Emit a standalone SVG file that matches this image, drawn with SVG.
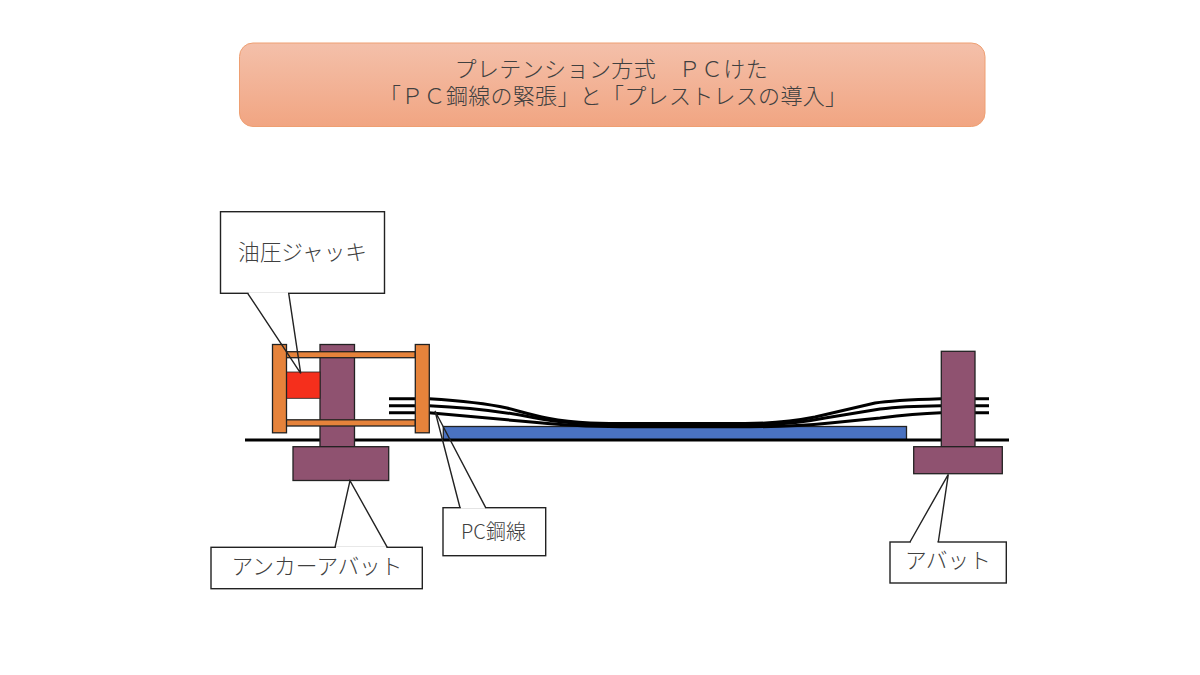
<svg xmlns="http://www.w3.org/2000/svg" width="1200" height="675" viewBox="0 0 1200 675">
<style>
text{font-family:"Noto Sans CJK JP","Noto Sans CJK SC",sans-serif;font-weight:300;fill:#404040;text-anchor:middle}
.t{font-size:21.700px}
.h{font-size:22px;text-anchor:start}
.p{fill:#8F5270;stroke:#222;stroke-width:1.300}
.o{fill:#E6833B;stroke:#222;stroke-width:1.300}
.s{fill:none;stroke:#000;stroke-width:3}
.c{fill:#fff;stroke:#222;stroke-width:1.400}
.l{fill:none;stroke:#222;stroke-width:1.400}
.w{stroke:#fff;stroke-width:2}
</style>
<defs>
<linearGradient id="g" x1="0" y1="0" x2="0" y2="1"><stop offset="0" stop-color="#F4C0AA"/><stop offset="1" stop-color="#F1A582"/></linearGradient>
</defs>
<rect width="1200" height="675" fill="#fff"/>
<g id="title">
<rect x="239.500" y="43" width="745.500" height="83.500" rx="13.500" fill="url(#g)" stroke="#EE9F72" stroke-width="1"/>
<text class="h" y="77" x="454.500 476.900 499.300 521.700 544.100 566.500 588.900 611.300 633.700 656.100 678.500 700.900 723.300 745.700">プレテンション方式　ＰＣけた</text>
<text class="h" y="104" x="379 401.300 423.600 445.900 468.200 490.500 512.800 535.100 557.400 579.700 602 624.300 646.600 668.900 691.200 713.500 735.800 758.100 780.400 802.700 825">「ＰＣ鋼線の緊張」と「プレストレスの導入」</text>
</g>
<g id="blue-girder"><rect x="443.300" y="426.500" width="463.200" height="13.500" fill="#4A72C1" stroke="#222" stroke-width="1.300"/></g>
<g id="connectors">
<path class="s" d="M245 440H1009"/>
<path class="s" d="M389 398.700H415M389 405.700H415M389 412.700H415M975 398.700H989M975 405.700H989M975 412.700H989"/>
<path class="s" d="M429 398.700C450 400 480 402 507 408C530 414 550 421 590 423C620 424 640 423.500 660 423.500H745C775 423.500 795 421 815 417L875 403C890 400.500 915 399.500 941 398.700"/>
<path class="s" d="M429 405.700C460 407 490 410 520 415C545 420 570 425 620 425H750C785 425 805 422 825 418L880 409C900 406.500 920 406 941 405.700"/>
<path class="s" d="M429 412.700L520 421C550 424 580 426.700 620 426.700H750C790 426.700 810 425 830 423L880 418C900 415.500 920 413.500 941 412.700"/>
</g>
<g id="anchor-abutment">
<rect class="p" x="320" y="344.500" width="34.500" height="102.200"/>
<rect class="p" x="293" y="446.700" width="95.700" height="33.800"/>
</g>
<g id="jack"><rect x="286.300" y="372" width="33.700" height="26.300" fill="#F52F1C" stroke="#222" stroke-width="0.800"/></g>
<g id="frame">
<rect class="o" x="286.300" y="351.700" width="129" height="6"/>
<rect class="o" x="286.300" y="419.800" width="129" height="6.200"/>
<rect class="o" x="272.500" y="344.500" width="14" height="88.300"/>
<rect class="o" x="415.300" y="344.500" width="14" height="88.300"/>
</g>
<g id="abutment">
<rect class="p" x="941.300" y="351.300" width="33.700" height="95.400"/>
<rect class="p" x="913.700" y="446.700" width="88.600" height="27"/>
</g>
<g id="callout-jack">
<rect class="c" x="220.500" y="211.700" width="164" height="81.600"/>
<path class="w" d="M248.500 293.300H288"/>
<path class="l" d="M247.700 293.300L300.700 373.300L288.700 293.300"/>
<text class="t" x="302.500" y="259.500">油圧ジャッキ</text>
</g>
<g id="callout-pc">
<rect class="c" x="443" y="507.700" width="102.700" height="48"/>
<path class="w" d="M460.800 507.700H485"/>
<path class="l" d="M460 507.700L435 411L485.700 507.700"/>
<text x="493.500" y="539" font-size="20">PC鋼線</text>
</g>
<g id="callout-anchor">
<rect class="c" x="211" y="547.300" width="211.300" height="41.400"/>
<path class="w" d="M335.800 547.300H386.500"/>
<path class="l" d="M335 547.300L350 480.700L387.300 547.300"/>
<text class="t" x="317" y="573.500">アンカーアバット</text>
</g>
<g id="callout-abut">
<rect class="c" x="890" y="542" width="116.300" height="41"/>
<path class="w" d="M910.800 542H937.500"/>
<path class="l" d="M910 542L948.300 474.300L938.300 542"/>
<text class="t" x="948" y="568">アバット</text>
</g>
</svg>
